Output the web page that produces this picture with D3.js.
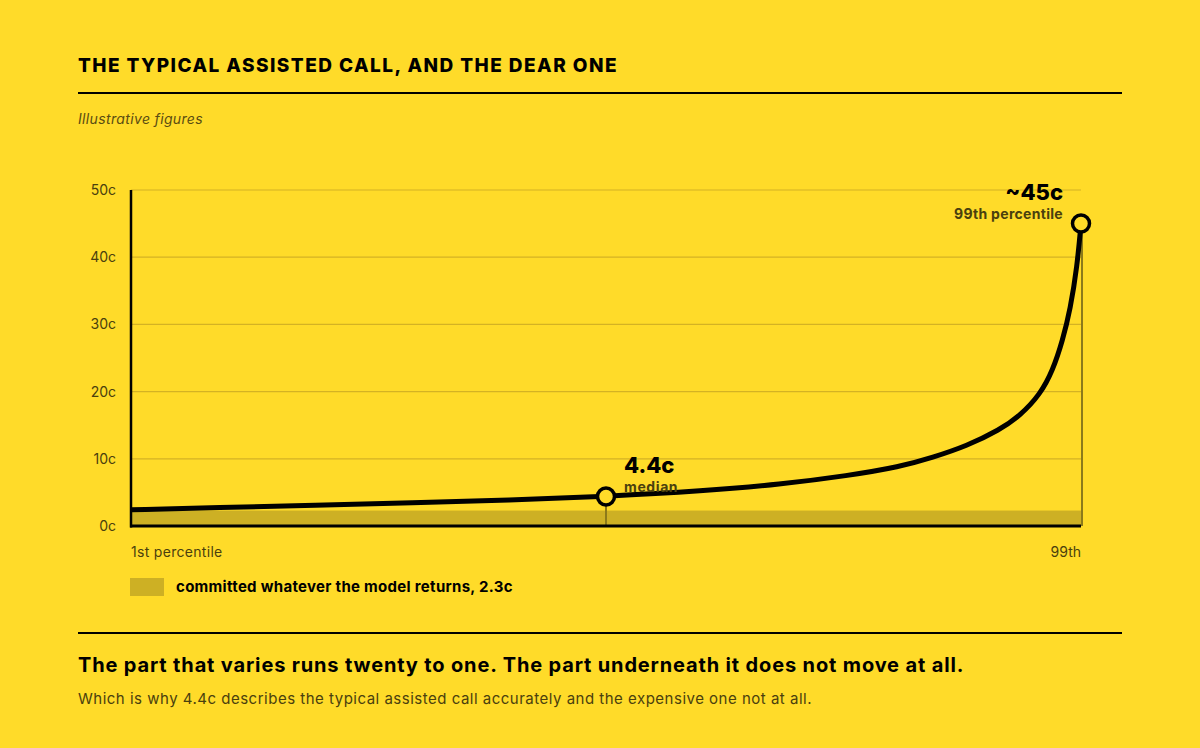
<!DOCTYPE html>
<html>
<head>
<meta charset="utf-8">
<script src="https://cdn.jsdelivr.net/npm/d3@7"></script>
<style>
  html, body { margin: 0; padding: 0; background: #FFDB29; }
  svg { display: block; font-family: Inter, "Noto Sans", sans-serif; }
</style>
</head>
<body>
<svg id="chart"></svg>
<script>
// cost per call (cents) by percentile
var percentiles = [1, 10, 20, 30, 40, 50, 60, 68, 75, 80.3, 83.7, 87.2, 90.6, 92.7, 94.8, 96.1, 97.1, 97.9, 98.6, 99];
var costCents  = [2.4, 2.75, 3.1, 3.45, 3.85, 4.4, 5.2, 6.2, 7.5, 8.8, 10.2, 11.9, 14.3, 16.4, 19.6, 23.2, 27.6, 32.3, 38.6, 45];
var yTicks = [0, 10, 20, 30, 40, 50];
var committed = 2.3;
var median = { p: 50, v: 4.4 };
var top99 = { p: 99, v: 45 };

var W = 1200, H = 748;
var margin = { top: 190, right: 119, bottom: 222, left: 131 };
var width = W - margin.left - margin.right;
var height = H - margin.top - margin.bottom;

var bg = "#FFDB29", band = "#CDB024", grid = "#D4B224", olive = "#4A400E", stem = "#8C7A1A";

var svg = d3.select("#chart").attr("width", W).attr("height", H);

// header
svg.append("text").attr("x", 78).attr("y", 72)
  .text("THE TYPICAL ASSISTED CALL, AND THE DEAR ONE")
  .attr("font-size", "19px").attr("font-weight", 800).attr("letter-spacing", "1.45px").attr("fill", "#000");
svg.append("line").attr("x1", 78).attr("x2", 1122).attr("y1", 93).attr("y2", 93)
  .attr("stroke", "#000").attr("stroke-width", 2);
svg.append("text").attr("x", 78).attr("y", 124).text("Illustrative figures")
  .attr("font-size", "14px").attr("font-style", "italic").attr("letter-spacing", "0.35px").attr("fill", "#5A4C12");

var x = d3.scaleLinear().domain([1, 99]).range([0, width]);
var y = d3.scaleLinear().domain([0, 50]).range([height, 0]);

var g = svg.append("g").attr("transform", `translate(${margin.left}, ${margin.top})`);

// gridlines
g.selectAll("line.grid")
  .data(yTicks.filter(d => d > 0))
  .join("line")
  .attr("class", "grid")
  .attr("x1", 0).attr("x2", width)
  .attr("y1", d => y(d)).attr("y2", d => y(d))
  .attr("stroke", grid).attr("stroke-width", 1.2);

// y axis labels
var yAxis = g.append("g").call(d3.axisLeft(y).tickValues(yTicks).tickFormat(d => d + "c").tickSize(0).tickPadding(15));
yAxis.select(".domain").remove();
yAxis.selectAll("text").attr("font-size", "14px").attr("fill", olive).attr("font-family", "Inter, sans-serif");

// committed band
g.append("rect").attr("x", 0).attr("y", y(committed)).attr("width", width).attr("height", height - y(committed))
  .attr("fill", band);

// stems
[median, top99].forEach(function(d) {
  var sx = x(d.p) + (d.p === 99 ? 1 : 0);
  g.append("line").attr("x1", sx).attr("x2", sx)
    .attr("y1", y(d.v)).attr("y2", height)
    .attr("stroke", stem).attr("stroke-width", 2);
});

// axes lines
g.append("line").attr("x1", 0).attr("x2", 0).attr("y1", 0).attr("y2", height + 1.5)
  .attr("stroke", "#000").attr("stroke-width", 2.5);
g.append("line").attr("x1", -1).attr("x2", width).attr("y1", height).attr("y2", height)
  .attr("stroke", "#000").attr("stroke-width", 3);

// curve
var line = d3.line().x((d, i) => x(percentiles[i])).y(d => y(d)).curve(d3.curveBasis);
g.append("path").datum(costCents).attr("d", line)
  .attr("fill", "none").attr("stroke", "#000").attr("stroke-width", 5).attr("stroke-linejoin", "round");

// markers
g.selectAll("circle.mark").data([median, top99]).join("circle")
  .attr("class", "mark")
  .attr("cx", d => x(d.p)).attr("cy", d => y(d.v)).attr("r", 8.5)
  .attr("fill", bg).attr("stroke", "#000").attr("stroke-width", 3.5);

// annotations
g.append("text").attr("x", x(median.p) + 18).attr("y", y(median.v) - 23).text("4.4c")
  .attr("font-size", "22px").attr("font-weight", 800).attr("fill", "#000");
g.append("text").attr("x", x(median.p) + 18).attr("y", y(median.v) - 4).text("median")
  .attr("font-size", "14px").attr("font-weight", 700).attr("letter-spacing", "0.6px").attr("fill", olive);
g.append("text").attr("x", x(top99.p) - 18).attr("y", y(top99.v) - 24).attr("text-anchor", "end").text("~45c")
  .attr("font-size", "22px").attr("font-weight", 800).attr("fill", "#000");
g.append("text").attr("x", x(top99.p) - 18).attr("y", y(top99.v) - 5).attr("text-anchor", "end").text("99th percentile")
  .attr("font-size", "14px").attr("font-weight", 700).attr("letter-spacing", "0.3px").attr("fill", olive);

// x labels
g.append("text").attr("x", 0).attr("y", height + 31).text("1st percentile")
  .attr("font-size", "14px").attr("letter-spacing", "0.3px").attr("fill", olive);
g.append("text").attr("x", width).attr("y", height + 31).attr("text-anchor", "end").text("99th")
  .attr("font-size", "14px").attr("fill", olive);

// legend
svg.append("rect").attr("x", 130).attr("y", 578).attr("width", 34).attr("height", 18).attr("fill", band);
svg.append("text").attr("x", 176).attr("y", 592).text("committed whatever the model returns, 2.3c")
  .attr("font-size", "15px").attr("font-weight", 700).attr("fill", "#000").attr("letter-spacing", "0.3px");

// footer
svg.append("line").attr("x1", 78).attr("x2", 1122).attr("y1", 633).attr("y2", 633)
  .attr("stroke", "#000").attr("stroke-width", 2);
svg.append("text").attr("x", 78).attr("y", 672)
  .text("The part that varies runs twenty to one. The part underneath it does not move at all.")
  .attr("font-size", "20px").attr("font-weight", 700).attr("letter-spacing", "0.85px").attr("fill", "#000");
svg.append("text").attr("x", 78).attr("y", 704)
  .text("Which is why 4.4c describes the typical assisted call accurately and the expensive one not at all.")
  .attr("font-size", "15px").attr("letter-spacing", "0.5px").attr("fill", "#4A400E");
</script>
</body>
</html>
